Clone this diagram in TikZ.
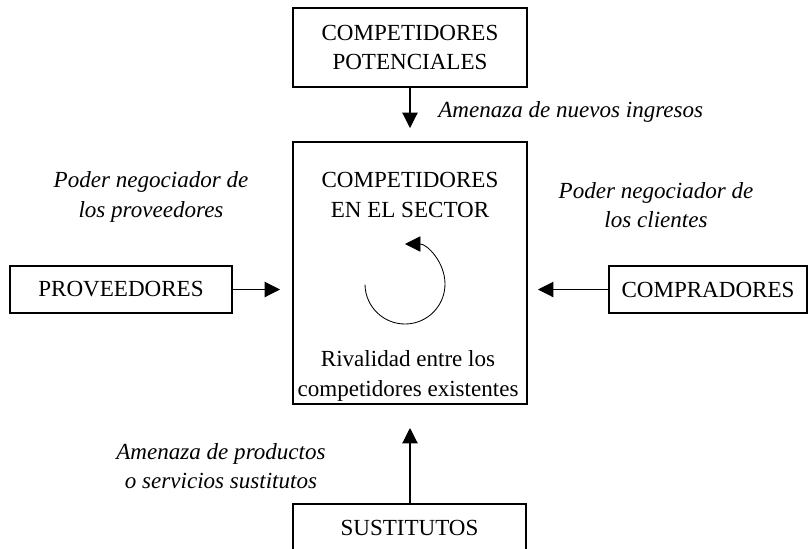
\documentclass[tikz,border=0pt]{standalone}
\usepackage{fontspec}
\setmainfont{Liberation Serif}
\usepackage{tikz}
\usetikzlibrary{arrows, arrows.meta}
\tikzset{
  fuerza/.style={draw, line width=0.9pt, align=center, inner sep=0pt, font=\fontsize{16.4}{21}\selectfont},
  rotulo/.style={align=center, inner sep=0pt, font=\fontsize{16.4}{21}\selectfont},
  amenaza/.style={align=center, inner sep=0pt, font=\fontsize{16.4}{21}\selectfont\itshape},
  flecha/.style={line width=0.8pt, -{Triangle[length=11pt, width=11pt]}}
}

\begin{document}
\begin{tikzpicture}
\useasboundingbox (0,0) rectangle (20.25,-13.7);
\clip (0,0) rectangle (20.25,-13.7);

\node[fuerza, minimum width=5.85cm, minimum height=1.975cm] (pot) at (10.25,-1.1875) {COMPETIDORES\\POTENCIALES};
\node[fuerza, minimum width=5.85cm, minimum height=6.55cm] (sec) at (10.25,-6.825) {};
\node[fuerza, minimum width=5.55cm, minimum height=1.175cm] (prov) at (3.025,-7.2375) {PROVEEDORES};
\node[fuerza, minimum width=4.95cm, minimum height=1.175cm] (comp) at (17.7,-7.2375) {COMPRADORES};
\node[fuerza, minimum width=5.825cm, minimum height=1.2cm] (sust) at (10.2375,-13.2) {SUSTITUTOS};

\node[rotulo] (sectxt) at (10.25,-4.875) {COMPETIDORES\\EN EL SECTOR};
\node[rotulo] (rival) at (10.2,-9.4) {Rivalidad entre los\\competidores existentes};

\node[amenaza, anchor=west] (nuevos) at (10.95,-2.8) {Amenaza de nuevos ingresos};
\node[amenaza] (pprov) at (3.775,-4.925) {Poder negociador de\\los proveedores};
\node[amenaza] (pcli) at (16.4,-5.125) {Poder negociador de\\los clientes};
\node[amenaza] (psus) at (5.525,-11.65) {Amenaza de productos\\o servicios sustitutos};

\coordinate (tpot) at (10.25,-3.2);
\coordinate (tprov) at (7.0,-7.2375);
\coordinate (tcomp) at (13.45,-7.2375);
\coordinate (tsust) at (10.25,-10.7);
\coordinate (giro) at (10.125,-7.1);

\draw[flecha] (pot.south) -- (tpot);
\draw[flecha] (prov.east) -- (tprov);
\draw[flecha] (comp.west) -- (tcomp);
\draw[flecha] (sust.north -| tsust) -- (tsust);
\draw[flecha, line width=0.6pt] (giro) ++(181:1.0) arc (181:450:1.0);

\end{tikzpicture}
\end{document}
